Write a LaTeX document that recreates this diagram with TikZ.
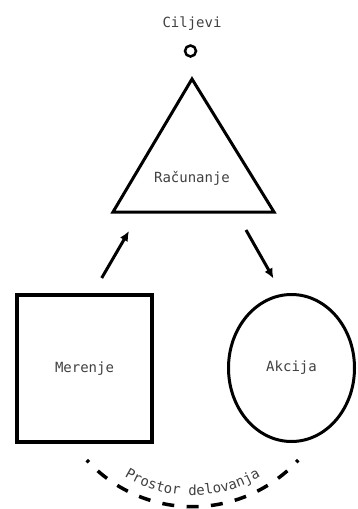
\documentclass[tikz,border=0pt]{standalone}
\usepackage{fontspec}
\setmonofont{DejaVu Sans Mono}
\usetikzlibrary{arrows.meta,shapes.geometric,decorations.text}

\begin{document}
\begin{tikzpicture}[%
			x=1pt, y=-1pt,
			every node/.style={align=center, font=\ttfamily\fontsize{14}{16}\selectfont, text=black!75},
			oblik/.style={draw=black, line width=3pt},
			strelica/.style={line width=3pt, -{Latex[length=10pt,width=9pt]}}
			]
			\useasboundingbox (0,0) rectangle (357,509);
			% cilj iznad trougla
			\node (ciljevi) at (192,24) {Ciljevi};
			\node[circle, draw=black, line width=2.5pt, minimum size=11pt, inner sep=0pt] (krug) at (190.5,51) {};
			% trougao
			\coordinate (vrh) at (192,79);
			\coordinate (desno) at (274,212);
			\coordinate (levo) at (113,212);
			\draw[oblik] (vrh) -- (desno) -- (levo) -- cycle;
			\node (racunanje) at (192,178) {Računanje};
			% merenje i akcija
			\node[oblik, line width=4pt, rectangle, minimum width=135pt, minimum height=147pt] (merenje) at (84.5,368.5) {Merenje};
			\node[oblik, ellipse, minimum width=126pt, minimum height=147pt, inner sep=0pt] (akcija) at (291.5,368) {Akcija};
			% strelice
			\coordinate (1a) at (101.7,278);
			\coordinate (1b) at (129,231);
			\coordinate (2a) at (246,230);
			\coordinate (2b) at (273.5,278.5);
			\draw[strelica] (1a) -- (1b);
			\draw[strelica] (2a) -- (2b);
			% prostor delovanja
			\coordinate (sredina) at (192.5,363.5);
			\draw[line width=3.5pt, dash pattern=on 12pt off 12.4pt, dash phase=9pt]
				(sredina) ++(137.6:143.2) arc[start angle=137.6, end angle=42.4, radius=143.2];
			\path[decorate, decoration={text along path, text align=center,
				text={|\ttfamily\fontsize{14}{16}\selectfont\color{black!75}|Prostor delovanja}}]
				(sredina) ++(137.6:132) arc[start angle=137.6, end angle=42.4, radius=132];
		\end{tikzpicture}
\end{document}
